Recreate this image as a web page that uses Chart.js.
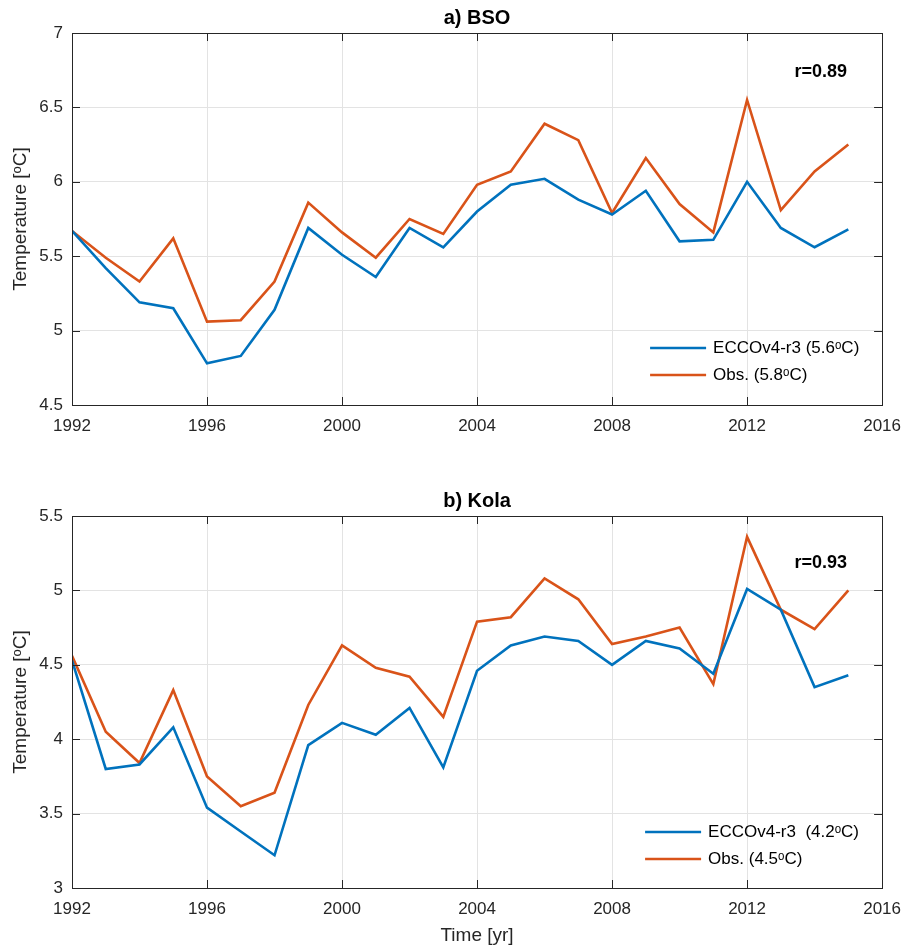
<!DOCTYPE html>
<html>
<head>
<meta charset="utf-8">
<script src="https://cdn.jsdelivr.net/npm/chart.js@4/dist/chart.umd.min.js"></script>
<style>
  body { margin: 0; background: #fff; }
  #wrap { position: relative; width: 912px; height: 950px; }
  #c1 { position: absolute; left: 0; top: 0; }
  #c2 { position: absolute; left: 0; top: 455px; }
</style>
</head>
<body>
<div id="wrap">
  <canvas id="c1" width="912" height="455"></canvas>
  <canvas id="c2" width="912" height="495"></canvas>
</div>
<script>
const years = [1992,1993,1994,1995,1996,1997,1998,1999,2000,2001,2002,2003,2004,2005,2006,2007,2008,2009,2010,2011,2012,2013,2014,2015];

const bsoModel = [5.67,5.42,5.19,5.15,4.78,4.83,5.14,5.69,5.51,5.36,5.69,5.56,5.80,5.98,6.02,5.88,5.78,5.94,5.60,5.61,6.00,5.69,5.56,5.68];
const bsoObs   = [5.67,5.49,5.33,5.62,5.06,5.07,5.33,5.86,5.66,5.49,5.75,5.65,5.98,6.07,6.39,6.28,5.79,6.16,5.85,5.66,6.55,5.81,6.07,6.25];

const kolaModel = [4.53,3.80,3.83,4.08,3.54,3.38,3.22,3.96,4.11,4.03,4.21,3.81,4.46,4.63,4.69,4.66,4.50,4.66,4.61,4.44,5.01,4.87,4.35,4.43];
const kolaObs   = [4.56,4.05,3.84,4.33,3.75,3.55,3.64,4.23,4.63,4.48,4.42,4.15,4.79,4.82,5.08,4.94,4.64,4.69,4.75,4.37,5.36,4.87,4.74,5.00];

const blue = "#0072BD";
const orange = "#D95319";
const font = "'Liberation Sans', Arial, sans-serif";

function pts(ys) {
  return years.map((x, i) => ({ x: x, y: ys[i] }));
}

// MATLAB-ish box, inward ticks, title, r-value and legend inside the axes
const boxPlugin = {
  id: "box",
  afterDraw(chart, args, opts) {
    const ctx = chart.ctx;
    const a = chart.chartArea;
    const xs = chart.scales.x, ys = chart.scales.y;
    ctx.save();
    ctx.strokeStyle = "#262626";
    ctx.lineWidth = 1;
    ctx.beginPath();
    xs.ticks.forEach(t => {
      const px = Math.round(xs.getPixelForValue(t.value)) + 0.5;
      ctx.moveTo(px, a.bottom); ctx.lineTo(px, a.bottom - 8);
      ctx.moveTo(px, a.top); ctx.lineTo(px, a.top + 8);
    });
    ys.ticks.forEach(t => {
      const py = Math.round(ys.getPixelForValue(t.value)) + 0.5;
      ctx.moveTo(a.left, py); ctx.lineTo(a.left + 8, py);
      ctx.moveTo(a.right, py); ctx.lineTo(a.right - 8, py);
    });
    ctx.stroke();
    ctx.strokeRect(Math.round(a.left) + 0.5, Math.round(a.top) + 0.5,
                   Math.round(a.right - a.left), Math.round(a.bottom - a.top));

    // title
    ctx.fillStyle = "#000";
    ctx.font = "bold 20px " + font;
    ctx.textAlign = "center";
    ctx.textBaseline = "middle";
    ctx.fillText(opts.title, (a.left + a.right) / 2, a.top - 15);

    // correlation
    ctx.font = "bold 18px " + font;
    ctx.textAlign = "right";
    ctx.fillText(opts.r, a.right - 35, a.top + opts.rDy);

    // legend
    ctx.font = "17px " + font;
    ctx.textAlign = "left";
    chart.data.datasets.forEach((ds, i) => {
      const y = a.bottom - opts.legBottom + i * 27;
      ctx.strokeStyle = ds.borderColor;
      ctx.lineWidth = 2.5;
      ctx.beginPath();
      ctx.moveTo(a.right - opts.legLeft, y);
      ctx.lineTo(a.right - opts.legLeft + 56, y);
      ctx.stroke();
      ctx.fillStyle = "#000";
      ctx.fillText(ds.label, a.right - opts.legLeft + 63, y);
    });
    ctx.restore();
  }
};

function makeChart(id, model, obs, labels, yMin, yMax, opts, showX) {
  return new Chart(document.getElementById(id), {
    type: "line",
    data: {
      datasets: [
        { label: labels[0], data: pts(model), borderColor: blue, borderWidth: 2.6, pointRadius: 0, tension: 0 },
        { label: labels[1], data: pts(obs), borderColor: orange, borderWidth: 2.6, pointRadius: 0, tension: 0 }
      ]
    },
    options: {
      responsive: false,
      animation: false,
      layout: { padding: { left: 5, right: 29, top: opts.top, bottom: 0 } },
      plugins: {
        legend: { display: false },
        tooltip: { enabled: false },
        box: opts
      },
      scales: {
        x: {
          type: "linear",
          min: 1992, max: 2016,
          afterFit: s => { s.height = opts.xh; },
          grid: { color: "#e3e3e3", drawTicks: false },
          border: { display: false },
          ticks: { stepSize: 4, padding: 11, color: "#262626", font: { family: font, size: 17 }, callback: v => String(v), maxRotation: 0 },
          title: { display: showX, text: "Time [yr]", color: "#262626", font: { family: font, size: 19 }, padding: { top: 2, bottom: 3 } }
        },
        y: {
          min: yMin, max: yMax,
          afterFit: s => { s.width = 67; },
          grid: { color: "#e3e3e3", drawTicks: false },
          border: { display: false },
          ticks: { stepSize: 0.5, padding: 9, color: "#262626", font: { family: font, size: 17 }, callback: v => String(+v.toFixed(2)) },
          title: { display: true, text: "Temperature [ᵒC]", color: "#262626", font: { family: font, size: 19 }, padding: { top: 4, bottom: 4 } }
        }
      }
    },
    plugins: [boxPlugin]
  });
}

makeChart("c1", bsoModel, bsoObs, ["ECCOv4-r3 (5.6ᵒC)", "Obs. (5.8ᵒC)"], 4.5, 7,
  { title: "a) BSO", r: "r=0.89", rDy: 39, legBottom: 57, legLeft: 232, top: 33, xh: 50 }, false);

makeChart("c2", kolaModel, kolaObs, ["ECCOv4-r3  (4.2ᵒC)", "Obs. (4.5ᵒC)"], 3, 5.5,
  { title: "b) Kola", r: "r=0.93", rDy: 47, legBottom: 56, legLeft: 237, top: 61, xh: 62 }, true);
</script>
</body>
</html>
